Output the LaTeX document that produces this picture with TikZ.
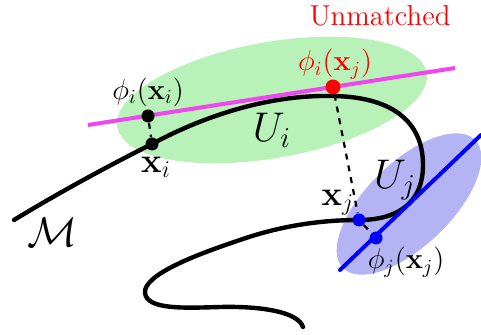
\documentclass[tikz,border=0pt]{standalone}
\usepackage{amsmath,amssymb}
\usetikzlibrary{positioning}
\definecolor{tangentpink}{RGB}{240,70,240}
\definecolor{patchgreen}{RGB}{185,242,185}
\definecolor{patchblue}{RGB}{180,180,245}
\begin{document}
\begin{tikzpicture}[x=0.5pt, y=-0.5pt, every node/.style={font=\Large},
	dot/.style={circle, inner sep=0pt, minimum size=6.5pt},
	manifold/.style={line width=2.2pt, line cap=round}]
	\useasboundingbox (0,0) rectangle (481,335);
	% neighbourhoods
	\fill[patchgreen] (272,100) ellipse [x radius=157, y radius=58, rotate=10];
	\fill[patchblue] (409,204) ellipse [x radius=92, y radius=42, rotate=44];
	% the manifold
	\draw[manifold] (14,220) .. controls (60,192) and (110,165) .. (152,144)
		.. controls (200,118) and (265,95) .. (330,96)
		.. controls (390,96) and (423,120) .. (423,165)
		.. controls (423,205) and (395,220) .. (359,220)
		.. controls (320,220) and (280,226) .. (240,240)
		.. controls (195,255) and (143,275) .. (145,293)
		.. controls (147,310) and (185,308) .. (220,307)
		.. controls (262,306) and (298,312) .. (303,327);
	% tangent spaces
	\draw[tangentpink, line width=2pt] (88,125) -- (455,68);
	\draw[blue, line width=2pt, line cap=round] (340,270) -- (481,135);
	% points
	\node[dot, fill=black] (phiii) at (148,116) {};
	\node[dot, fill=black] (xi) at (152,144) {};
	\node[dot, fill=red, minimum size=7.5pt] (phiij) at (333,87) {};
	\node[dot, fill=blue] (xj) at (359,220) {};
	\node[dot, fill=blue] (phijj) at (376,238) {};
	\draw[dashed, line width=1.1pt] (phiii) -- (xi);
	\draw[dashed, line width=1.1pt] (phiij) -- (xj);
	\draw[dashed, line width=1.1pt] (xj) -- (phijj);
	% labels
	\node[text=red] (unm) at (380,16) {Unmatched};
	\node[text=red] (lphiij) at (335,64) {$\phi_i(\mathbf{x}_j)$};
	\node (lphiii) at (148,92) {$\phi_i(\mathbf{x}_i)$};
	\node[font=\LARGE] (lxi) at (156,167) {$\mathbf{x}_i$};
	\node[font=\LARGE] (lxj) at (338,203) {$\mathbf{x}_j$};
	\node (lphijj) at (406,262) {$\phi_j(\mathbf{x}_j)$};
	\node[font=\huge] (lui) at (272,130) {$U_i$};
	\node[font=\huge] (luj) at (395,180) {$U_j$};
	\node[font=\huge] (lm) at (52,232) {$\mathcal{M}$};
\end{tikzpicture}
\end{document}
